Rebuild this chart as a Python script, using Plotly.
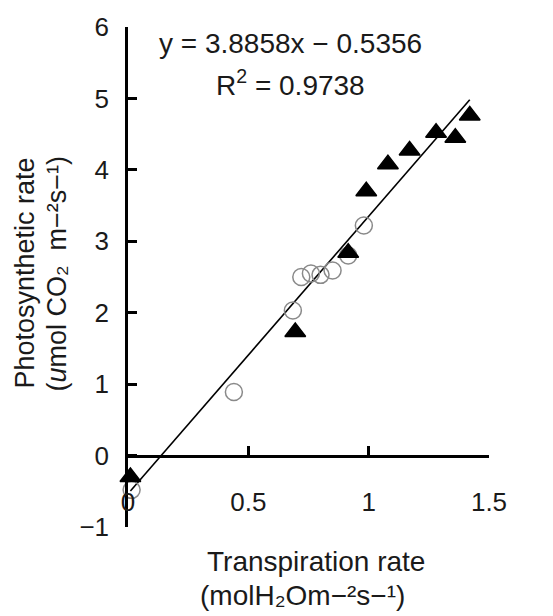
import plotly.graph_objects as go
import numpy as np

# Open circles
circle_x = [0.015, 0.44, 0.685, 0.72, 0.76, 0.80, 0.85, 0.915, 0.98]
circle_y = [-0.48, 0.89, 2.03, 2.50, 2.55, 2.53, 2.59, 2.80, 3.22]

# Filled triangles
tri_x = [0.01, 0.695, 0.915, 0.99, 1.08, 1.17, 1.28, 1.36, 1.42]
tri_y = [-0.30, 1.73, 2.84, 3.70, 4.08, 4.27, 4.52, 4.45, 4.76]

# Regression
slope = 3.8858
intercept = -0.5356
r2 = 0.9738

x_ticks = [0, 0.5, 1, 1.5]
x_tick_text = ["0", "0.5", "1", "1.5"]
y_ticks = [-1, 0, 1, 2, 3, 4, 5, 6]
y_tick_text = ["\u22121", "0", "1", "2", "3", "4", "5", "6"]

FONT = "Liberation Sans, Arial, sans-serif"
TXT = "#1a1a1a"

all_x = circle_x + tri_x
lx = np.array([min(all_x), max(all_x)])
ly = slope * lx + intercept

fig = go.Figure()
fig.add_trace(go.Scatter(x=lx, y=ly, mode="lines",
                         line=dict(color="black", width=1.6),
                         showlegend=False, cliponaxis=False))
fig.add_trace(go.Scatter(x=circle_x, y=circle_y, mode="markers",
                         marker=dict(symbol="circle-open", size=17,
                                     color="#8a8a8a", line=dict(width=1.5)),
                         showlegend=False, cliponaxis=False))
fig.add_trace(go.Scatter(x=tri_x, y=tri_y, mode="markers",
                         marker=dict(symbol="triangle-up", size=18, color="black",
                                     line=dict(color="black", width=1.5)),
                         showlegend=False, cliponaxis=False))

ymin, ymax = -1, 6
L, R, T, B = 128, 64, 16, 89
W, H = 553, 616
fig.update_layout(
    width=W, height=H,
    margin=dict(l=L, r=R, t=T, b=B),
    plot_bgcolor="white", paper_bgcolor="white",
    font=dict(family=FONT, size=26, color=TXT),
    xaxis=dict(range=[0, 1.5], anchor="free",
               position=(0 - ymin) / (ymax - ymin),
               showline=True, linecolor="black", linewidth=2.5,
               ticks="inside", ticklen=9, tickwidth=2.5, tickcolor="black",
               tickvals=x_ticks, ticktext=x_tick_text,
               ticklabelstandoff=22,
               tickfont=dict(size=26),
               showgrid=False, zeroline=False),
    yaxis=dict(range=[ymin, ymax], showline=True, linecolor="black", linewidth=2.5,
               ticks="inside", ticklen=9, tickwidth=2.5, tickcolor="black",
               tickvals=y_ticks, ticktext=y_tick_text,
               ticklabelstandoff=11,
               tickfont=dict(size=26),
               showgrid=False, zeroline=False),
)


def px_x(x):
    return (x - L) / (W - L - R)


def px_y(y):
    return 1 - (y - T) / (H - T - B)


annotations = [
    dict(text="y = 3.8858x \u2212 0.5356", x=290, y=33),
    dict(text="R<sup>2</sup> = 0.9738", x=290, y=73),
    dict(text="Transpiration rate", x=316, y=562),
    dict(text="(molH\u2082Om\u2212\u00b2s\u2212\u00b9)", x=302, y=597),
]
for a in annotations:
    fig.add_annotation(text=a["text"], xref="paper", yref="paper",
                       x=px_x(a["x"]), y=px_y(a["y"]),
                       xanchor="center", yanchor="middle", showarrow=False,
                       font=dict(family=FONT, size=28, color=TXT))

ytitles = [
    dict(text="Photosynthetic rate", x=25),
    dict(text="(<i>u</i>mol CO\u2082  m\u2212\u00b2s\u2212\u00b9)", x=57),
]
for a in ytitles:
    fig.add_annotation(text=a["text"], xref="paper", yref="paper",
                       x=px_x(a["x"]), y=px_y(268),
                       xanchor="center", yanchor="middle", textangle=-90,
                       showarrow=False,
                       font=dict(family=FONT, size=27, color=TXT))

fig.write_html("out.html")
